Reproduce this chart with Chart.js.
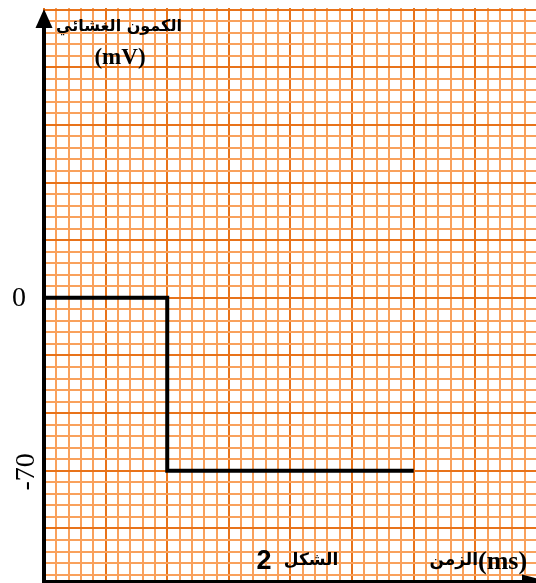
<!DOCTYPE html>
<html>
<head>
<meta charset="utf-8">
<script src="https://cdn.jsdelivr.net/npm/chart.js@4.4.1/dist/chart.umd.min.js"></script>
<style>
html,body{margin:0;padding:0;background:#fff;}
#wrap{width:536px;height:583px;position:relative;}
</style>
</head>
<body>
<div id="wrap"><canvas id="c"></canvas></div>
<script>
// Data (time in ms, membrane potential in mV)
const timeMs = [0, 2, 2, 6];
const potentialMv = [0, 0, -70, -70];
const yTickLabels = ['0', '-70'];
const yTitle = 'الكمون الغشائي';
const yUnit = '(mV)';
const xTitle = 'الزمن';
const xUnit = '(ms)';
const figWord = 'الشكل';
const figNum = '2';

const Y_STEP = 70 / 15;   // one minor grid square in mV
const X_STEP = 0.2;       // one minor grid square in ms

const points = timeMs.map((t, i) => ({x: t, y: potentialMv[i]}));

const minorColor = '#f9a15c';
const majorColor = '#e8731a';

const overlay = {
  id: 'overlay',
  afterDraw(chart) {
    const ctx = chart.ctx;
    const xs = chart.scales.x, ys = chart.scales.y;
    const area = chart.chartArea;
    ctx.save();
    ctx.fillStyle = '#000';
    ctx.strokeStyle = '#000';
    // y axis
    const ax = xs.getPixelForValue(0);
    ctx.lineWidth = 4;
    ctx.beginPath();
    ctx.moveTo(ax, 26);
    ctx.lineTo(ax, 583);
    ctx.stroke();
    // arrow up
    ctx.beginPath();
    ctx.moveTo(ax, 9);
    ctx.lineTo(ax - 8.5, 28);
    ctx.lineTo(ax + 8.5, 28);
    ctx.closePath();
    ctx.fill();
    // x axis
    const ay = area.bottom;
    ctx.lineWidth = 3;
    ctx.beginPath();
    ctx.moveTo(ax, ay);
    ctx.lineTo(530, ay);
    ctx.stroke();
    ctx.beginPath();
    ctx.moveTo(548, ay);
    ctx.lineTo(522, ay - 7);
    ctx.lineTo(522, ay + 7);
    ctx.closePath();
    ctx.fill();

    // y tick labels
    ctx.textAlign = 'center';
    ctx.textBaseline = 'middle';
    ctx.font = '28px "Liberation Serif"';
    ctx.fillText(yTickLabels[0], 19, ys.getPixelForValue(0) + 1);
    ctx.save();
    ctx.translate(27, ys.getPixelForValue(-70) + 1);
    ctx.rotate(-Math.PI / 2);
    ctx.fillText(yTickLabels[1], 0, 0);
    ctx.restore();

    // titles
    ctx.font = 'bold 16px "DejaVu Sans"';
    ctx.fillText(yTitle, 119, 27);
    ctx.font = 'bold 23px "Liberation Serif"';
    ctx.fillText(yUnit, 120, 58);

    ctx.font = 'bold 17px "DejaVu Sans"';
    ctx.fillText(figWord, 311, 561);
    ctx.font = 'bold 27px "Liberation Sans"';
    ctx.fillText(figNum, 264, 562);

    ctx.textAlign = 'right';
    ctx.font = 'bold 17px "DejaVu Sans"';
    ctx.fillText(xTitle, 478, 561);
    ctx.textAlign = 'left';
    ctx.font = 'bold 26px "Liberation Serif"';
    ctx.fillText(xUnit, 478, 562);
    ctx.restore();
  }
};

function makeTicks(min, max, step) {
  const out = [];
  const k0 = Math.ceil(min / step - 1e-6), k1 = Math.floor(max / step + 1e-6);
  for (let k = k0; k <= k1; k++) out.push({value: k * step, k: k});
  return out;
}

new Chart(document.getElementById('c'), {
  type: 'scatter',
  data: {
    datasets: [{
      data: points,
      showLine: true,
      borderColor: '#000',
      borderWidth: 4,
      pointRadius: 0,
      tension: 0,
      borderJoinStyle: 'miter',
      borderCapStyle: 'butt'
    }]
  },
  options: {
    responsive: true,
    maintainAspectRatio: false,
    animation: false,
    layout: {padding: {left: 44, top: 8, right: 0, bottom: 1.5}},
    plugins: {legend: {display: false}, tooltip: {enabled: false}},
    scales: {
      x: {
        type: 'linear',
        min: 0,
        max: 7.985,
        afterBuildTicks(s) { s.ticks = makeTicks(0, 8, X_STEP).filter(t => t.value <= s.max + 1e-6); },
        ticks: {display: false},
        border: {display: false},
        grid: {
          drawTicks: false,
          lineWidth: 2,
          color: (c) => (c.tick && c.tick.k % 5 === 0) ? majorColor : minorColor
        }
      },
      y: {
        type: 'linear',
        min: -114.8,
        max: 117.3,
        afterBuildTicks(s) { s.ticks = makeTicks(s.min, s.max, Y_STEP); },
        ticks: {display: false},
        border: {display: false},
        grid: {
          drawTicks: false,
          lineWidth: 2,
          color: (c) => (c.tick && c.tick.k % 5 === 0) ? majorColor : minorColor
        }
      }
    }
  },
  plugins: [overlay]
});
</script>
</body>
</html>
